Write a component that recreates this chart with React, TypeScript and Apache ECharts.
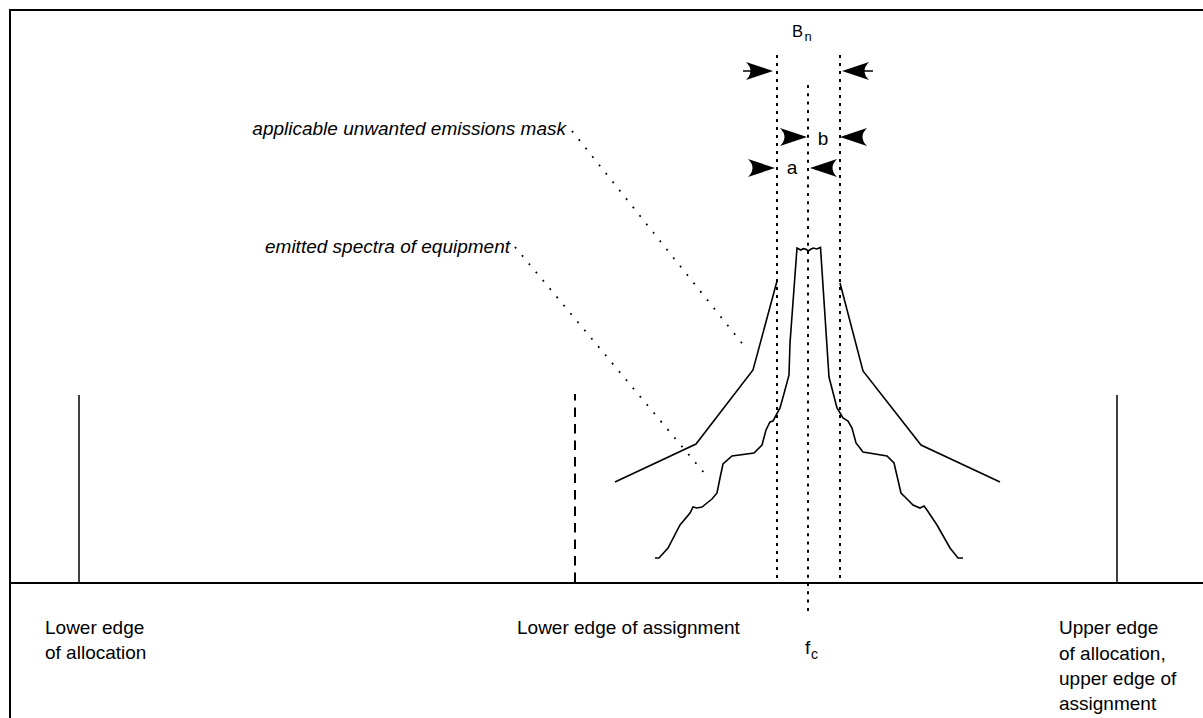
import React, { useEffect, useRef } from "react";
import * as echarts from "echarts";

// Frequency axis in drawing units (left -> right); level axis = height above the frequency baseline.
const FREQ_MIN = 0;
const FREQ_MAX = 1203;
const LEVEL_MIN = -135;
const LEVEL_MAX = 583;

// Applicable unwanted-emissions mask (two skirts)
const maskLower = [[615, 101], [696, 139], [753, 213], [777, 302]];
const maskUpper = [[840, 300], [863, 212], [921, 138], [1000, 101]];

// Emitted spectrum of equipment
const emission = [
  [655, 25], [659, 25], [668, 35], [680, 58], [690, 70], [693, 76], [697, 75], [702, 76],
  [707, 80], [712, 84], [717, 90], [720, 105], [723, 119], [732, 127], [754, 130], [762, 138],
  [766, 153], [770, 161], [773, 162], [780, 175], [785, 193], [789, 208], [790, 240], [797, 335],
  [800.7, 333], [803.3, 334.3], [806, 333.7], [808.3, 332], [810.7, 333.7], [813.3, 335],
  [816.7, 334], [820.5, 335.5], [829, 206], [837, 175], [843, 165], [848, 162], [852, 155],
  [856, 140], [863, 131], [887, 127], [894, 120], [901, 90], [907, 84], [913, 78], [920, 75],
  [924, 77], [927, 73], [937, 58], [950, 35], [958, 25], [963, 25],
];

// Edges
const allocationEdges = [79, 1117];
const assignmentLowerEdge = 575;
const edgeLevels = [0, 188];

// Necessary bandwidth limits and centre frequency
const bandEdges = [777, 840];
const bandLevels = [0, 528];
const centreFreq = 808;
const centreLevels = [-29, 498];

// Leader lines (label -> curve)
const leaderMask = [[572, 452], [745, 236]];
const leaderEmission = [[515, 336], [705, 109]];

// Dimension arrows: [arrow centre freq, level]
const arrowsPointRight = [[759.5, 512], [793.5, 446], [761.5, 415]];
const arrowsPointLeft = [[855.5, 512], [853.5, 446], [823.5, 415]];
const arrowTails = [
  [[743, 512], [752, 512]],
  [[864, 512], [873, 512]],
];

// Frame and baseline
const frame = [[10, -135], [10, 573], [1203, 573]];
const baseline = [[10, 0], [1203, 0]];

const FONT = '"Liberation Sans", Arial, Helvetica, sans-serif';

function lineSeries(name: string, data: number[][], width: number, type: any = "solid", z = 2) {
  return {
    name,
    type: "line",
    data,
    showSymbol: false,
    symbol: "none",
    silent: true,
    clip: false,
    z,
    lineStyle: { color: "#000", width, type, cap: "butt", join: "miter", opacity: 1 },
  };
}

function txt(text: string, x: number, y: number, size: number, italic = false, align = "left") {
  return {
    type: "text",
    x,
    y,
    silent: true,
    style: {
      text,
      fill: "#000",
      font: `${italic ? "italic " : ""}${size}px ${FONT}`,
      align,
      verticalAlign: "middle",
      textAlign: align,
      textVerticalAlign: "middle",
    },
  };
}

export default function App() {
  const ref = useRef<HTMLDivElement>(null);

  useEffect(() => {
    if (!ref.current) return;
    document.body.style.margin = "0";
    const chart = echarts.init(ref.current, undefined, { renderer: "svg" });

    const arrowStyle = { color: "#000", opacity: 1 };
    const series: any[] = [
      lineSeries("frame", frame, 2),
      lineSeries("baseline", baseline, 2),
      ...allocationEdges.map((f, i) =>
        lineSeries("allocation edge " + i, edgeLevels.map((l) => [f, l]), 1.5)
      ),
      lineSeries(
        "assignment lower edge",
        edgeLevels.map((l) => [assignmentLowerEdge, l + 1]),
        2,
        [9.5, 7]
      ),
      ...bandEdges.map((f, i) =>
        lineSeries("band edge " + i, bandLevels.map((l) => [f, l]).reverse(), 2, [3, 5])
      ),
      lineSeries("centre", centreLevels.map((l) => [centreFreq, l]).reverse(), 2, [3, 5.3]),
      lineSeries("mask lower", maskLower, 1.6),
      lineSeries("mask upper", maskUpper, 1.6),
      lineSeries("emission", emission, 1.6),
      lineSeries("leader mask", leaderMask, 1.8, [1.8, 9]),
      lineSeries("leader emission", leaderEmission, 1.8, [1.8, 9]),
      ...arrowTails.map((t, i) => lineSeries("arrow tail " + i, t, 1.5)),
      {
        name: "arrows right",
        type: "scatter",
        data: arrowsPointRight,
        symbol: "path://M0,0 L27,9 L0,18 Q9,9 0,0 Z",
        symbolSize: [27, 18],
        itemStyle: arrowStyle,
        silent: true,
        clip: false,
        z: 5,
      },
      {
        name: "arrows left",
        type: "scatter",
        data: arrowsPointLeft,
        symbol: "path://M27,0 L0,9 L27,18 Q18,9 27,0 Z",
        symbolSize: [27, 18],
        itemStyle: arrowStyle,
        silent: true,
        clip: false,
        z: 5,
      },
    ];

    chart.setOption({
      animation: false,
      backgroundColor: "#fff",
      grid: { left: 0, right: 0, top: 0, bottom: 0, containLabel: false },
      xAxis: { type: "value", min: FREQ_MIN, max: FREQ_MAX, show: false },
      yAxis: { type: "value", min: LEVEL_MIN, max: LEVEL_MAX, show: false },
      tooltip: { show: false },
      series,
      graphic: [
        txt("applicable unwanted emissions mask", 566, 128, 19, true, "right"),
        txt("emitted spectra of equipment", 265, 246, 19, true, "left"),
        txt("B", 792, 30.5, 16.5),
        txt("n", 804.5, 36, 13),
        txt("b", 823, 138, 19, false, "center"),
        txt("a", 792, 167.5, 19, false, "center"),
        txt("Lower edge", 45, 627, 19),
        txt("of allocation", 45, 652, 19),
        txt("Lower edge of assignment", 517, 627, 19),
        txt("f", 805, 647, 19),
        txt("c", 811, 653.5, 14),
        txt("Upper edge", 1059, 627, 19),
        txt("of allocation,", 1059, 653, 19),
        txt("upper edge of", 1059, 678, 19),
        txt("assignment", 1059, 703, 19),
      ],
    });

    return () => chart.dispose();
  }, []);

  return (
    <div style={{ position: "fixed", left: 0, top: 0, width: 1203, height: 718, background: "#fff" }}>
      <div ref={ref} style={{ width: 1203, height: 718 }} />
    </div>
  );
}
